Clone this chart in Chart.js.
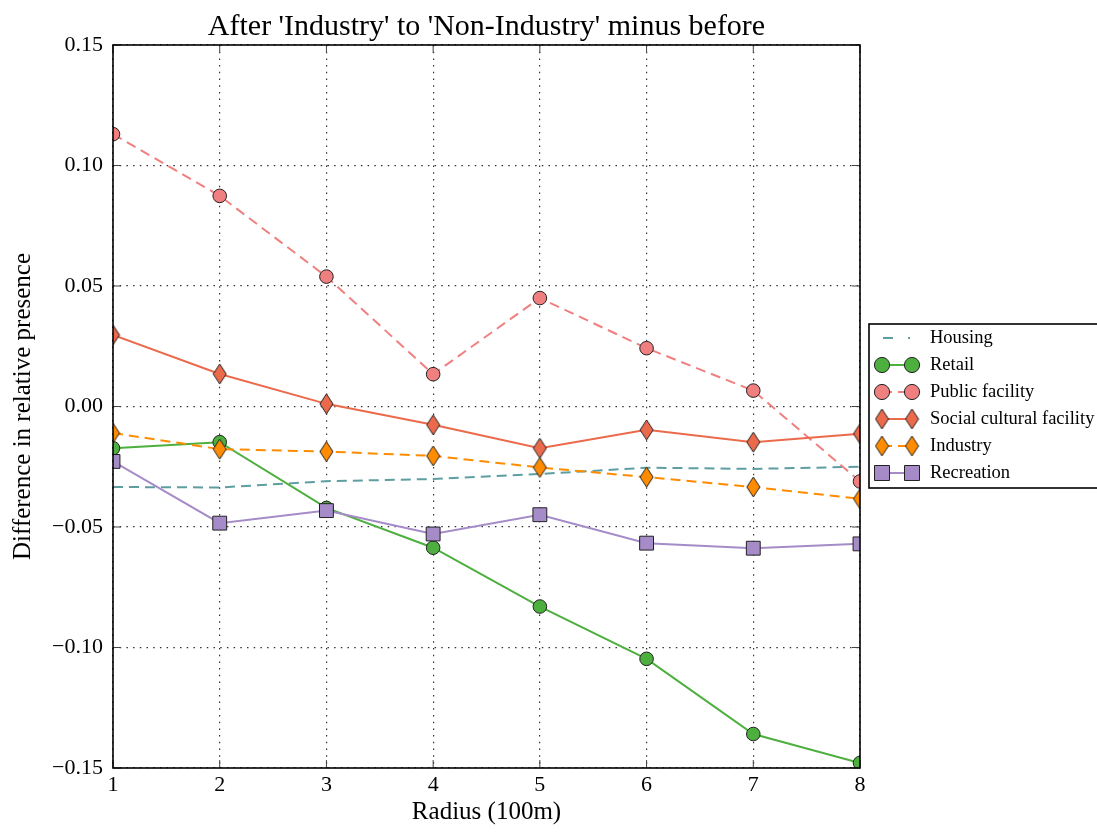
<!DOCTYPE html>
<html>
<head>
<meta charset="utf-8">
<title>After 'Industry' to 'Non-Industry' minus before</title>
<script src="https://cdn.jsdelivr.net/npm/chart.js@4.4.1/dist/chart.umd.min.js"></script>
<style>
  html, body { margin: 0; padding: 0; background: #fff; }
</style>
</head>
<body>
<canvas id="diffChart" width="1097" height="834"></canvas>
<script>
// Radius in units of 100 m
const radius = [1, 2, 3, 4, 5, 6, 7, 8];

// Difference in relative presence (after minus before)
const housing        = [-0.0334, -0.0336, -0.0310, -0.0301, -0.0280, -0.0254, -0.0259, -0.0250];
const retail         = [-0.0173, -0.0148, -0.0421, -0.0586, -0.0830, -0.1047, -0.1359, -0.1479];
const publicFacility = [ 0.1130,  0.0874,  0.0539,  0.0134,  0.0450,  0.0242,  0.0066, -0.0311];
const socialCultural = [ 0.0297,  0.0135,  0.0011, -0.0076, -0.0173, -0.0097, -0.0148, -0.0113];
const industry       = [-0.0110, -0.0177, -0.0187, -0.0205, -0.0253, -0.0293, -0.0334, -0.0383];
const recreation     = [-0.0228, -0.0484, -0.0432, -0.0529, -0.0449, -0.0567, -0.0588, -0.0570];

const xTicks = [1, 2, 3, 4, 5, 6, 7, 8];
const yTicks = [-0.15, -0.10, -0.05, 0.00, 0.05, 0.10, 0.15];

const SERIF = '"Liberation Serif", "Times New Roman", serif';

/* -------------------------------
   Marker helpers
--------------------------------*/
// thin diamond like matplotlib's "d" marker
function thinDiamond(fill, w, h) {
  const c = document.createElement("canvas");
  c.width = w + 2;
  c.height = h + 2;
  const g = c.getContext("2d");
  const cx = c.width / 2, cy = c.height / 2;
  g.beginPath();
  g.moveTo(cx, cy - h / 2);
  g.lineTo(cx + w / 2, cy);
  g.lineTo(cx, cy + h / 2);
  g.lineTo(cx - w / 2, cy);
  g.closePath();
  g.fillStyle = fill;
  g.fill();
  g.lineWidth = 1;
  g.strokeStyle = "#222";
  g.stroke();
  return c;
}

const series = [
  { label: "Housing", data: housing, color: "#5f9ea0", dash: [10, 6], marker: null },
  { label: "Retail", data: retail, color: "#4daf3e", dash: [], marker: "circle", r: 6.8 },
  { label: "Public facility", data: publicFacility, color: "#f08080", dash: [10, 6], marker: "circle", r: 6.8 },
  { label: "Social cultural facility", data: socialCultural, color: "#ec6a4c", dash: [], marker: thinDiamond("#ec6a4c", 13, 20) },
  { label: "Industry", data: industry, color: "#ff8c00", dash: [10, 6], marker: thinDiamond("#ff8c00", 13, 20) },
  { label: "Recreation", data: recreation, color: "#a58bc8", dash: [], marker: "rect", r: 9.8 }
];

function fmtTick(v) {
  if (Math.abs(v) < 1e-9) return "0.00";
  return v < 0 ? "\u2212" + Math.abs(v).toFixed(2) : v.toFixed(2);
}

/* -------------------------------
   Frame, inward ticks, title, legend
--------------------------------*/
const decorations = {
  id: "decorations",
  afterDraw(chart) {
    const { ctx, chartArea: a, scales } = chart;
    ctx.save();

    // inward tick marks on all four sides
    ctx.strokeStyle = "#444";
    ctx.lineWidth = 1;
    ctx.setLineDash([]);
    xTicks.forEach(v => {
      const x = scales.x.getPixelForValue(v);
      ctx.beginPath();
      ctx.moveTo(x, a.bottom); ctx.lineTo(x, a.bottom - 8);
      ctx.moveTo(x, a.top); ctx.lineTo(x, a.top + 8);
      ctx.stroke();
    });
    yTicks.forEach(v => {
      const y = scales.y.getPixelForValue(v);
      ctx.beginPath();
      ctx.moveTo(a.left, y); ctx.lineTo(a.left + 8, y);
      ctx.moveTo(a.right, y); ctx.lineTo(a.right - 8, y);
      ctx.stroke();
    });

    // axes frame
    ctx.strokeStyle = "#000";
    ctx.lineWidth = 1.6;
    ctx.strokeRect(a.left, a.top, a.right - a.left, a.bottom - a.top);

    // title
    ctx.fillStyle = "#000";
    ctx.font = "30px " + SERIF;
    ctx.textAlign = "center";
    ctx.textBaseline = "alphabetic";
    ctx.fillText("After 'Industry' to 'Non-Industry' minus before", (a.left + a.right) / 2, 35);

    drawLegend(ctx);
    ctx.restore();
  }
};

function drawLegend(ctx) {
  const x0 = 869, y0 = 324, w = 240, h = 164;
  ctx.fillStyle = "#fff";
  ctx.fillRect(x0, y0, w, h);
  ctx.strokeStyle = "#000";
  ctx.lineWidth = 1.6;
  ctx.strokeRect(x0, y0, w, h);

  const m1 = 882, m2 = 912;
  series.forEach((s, i) => {
    const y = 338 + i * 27;

    ctx.strokeStyle = s.color;
    ctx.lineWidth = 2;
    ctx.setLineDash(s.marker ? s.dash : [10, 15]);
    ctx.beginPath();
    ctx.moveTo(s.marker ? m1 : 883, y);
    ctx.lineTo(s.marker ? m2 : 910, y);
    ctx.stroke();
    ctx.setLineDash([]);

    if (s.marker) {
      ctx.fillStyle = s.color;
      ctx.strokeStyle = "#222";
      ctx.lineWidth = 1;
      [m1, m2].forEach(mx => {
        Chart.helpers.drawPoint(ctx, {
          pointStyle: s.marker,
          radius: (s.r || 7) + 0.8,
          rotation: 0,
          borderWidth: 1
        }, mx, y);
      });
    }

    ctx.fillStyle = "#000";
    ctx.font = "18.5px " + SERIF;
    ctx.textAlign = "left";
    ctx.textBaseline = "middle";
    ctx.fillText(s.label, 930, y);
  });
}

/* -------------------------------
   Chart
--------------------------------*/
function renderDiffChart() {
  const ctx = document.getElementById("diffChart");
  if (!ctx) return;

  new Chart(ctx, {
    type: "line",
    data: {
      datasets: series.map((s, i) => ({
        label: s.label,
        data: radius.map((r, k) => ({ x: r, y: s.data[k] })),
        borderColor: s.color,
        borderWidth: 2,
        borderDash: s.dash,
        backgroundColor: s.color,
        pointStyle: s.marker || "circle",
        pointRadius: s.marker ? (s.r || 9) : 0,
        pointHoverRadius: s.marker ? (s.r || 9) : 0,
        pointBackgroundColor: s.color,
        pointBorderColor: "#222",
        pointBorderWidth: 1,
        tension: 0,
        fill: false,
        clip: 0,
        order: series.length - i
      }))
    },
    options: {
      responsive: false,
      devicePixelRatio: 1,
      animation: false,
      layout: { padding: { top: 45, right: 237, left: 0, bottom: 0 } },
      plugins: {
        legend: { display: false },
        tooltip: { enabled: false }
      },
      scales: {
        x: {
          type: "linear",
          min: 1,
          max: 8,
          afterBuildTicks: scale => { scale.ticks = xTicks.map(v => ({ value: v })); },
          afterFit: scale => { scale.height = 66; },
          ticks: {
            color: "#000",
            font: { family: SERIF, size: 22 },
            padding: 4,
            maxRotation: 0,
            callback: v => String(v)
          },
          grid: { color: "#333", lineWidth: 1.2, drawTicks: false },
          border: { display: false, dash: [1.5, 5.2] },
          title: {
            display: true,
            text: "Radius (100m)",
            color: "#000",
            font: { family: SERIF, size: 25 },
            padding: { top: 0, bottom: 7 }
          }
        },
        y: {
          type: "linear",
          min: -0.15,
          max: 0.15,
          afterBuildTicks: scale => { scale.ticks = yTicks.map(v => ({ value: v })); },
          afterFit: scale => { scale.width = 113; },
          ticks: {
            color: "#000",
            font: { family: SERIF, size: 22 },
            padding: 10,
            callback: v => fmtTick(v)
          },
          grid: { color: "#333", lineWidth: 1.2, drawTicks: false },
          border: { display: false, dash: [1.5, 5.2] },
          title: {
            display: true,
            text: "Difference in relative presence",
            color: "#000",
            font: { family: SERIF, size: 25 },
            padding: { top: 8, bottom: 0 }
          }
        }
      }
    },
    plugins: [decorations]
  });
}

document.addEventListener("DOMContentLoaded", renderDiffChart);
</script>
</body>
</html>
